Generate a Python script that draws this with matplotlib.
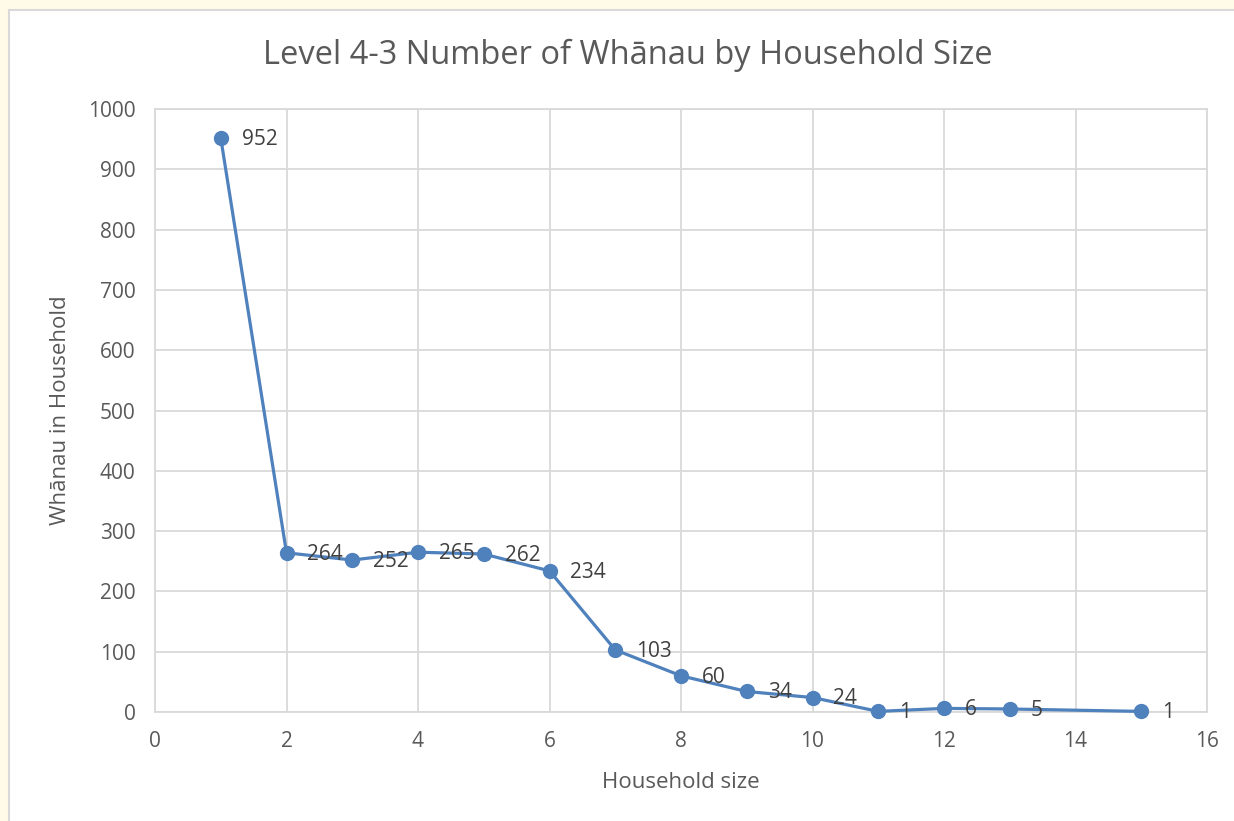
import matplotlib.pyplot as plt
from matplotlib.patches import Rectangle

household_size = [1, 2, 3, 4, 5, 6, 7, 8, 9, 10, 11, 12, 13, 15]
whanau_count = [952, 264, 252, 265, 262, 234, 103, 60, 34, 24, 1, 6, 5, 1]

plt.rcParams['font.family'] = ['Open Sans', 'DejaVu Sans']
text_color = '#595959'
grid_color = '#D9D9D9'
line_color = '#4F81BD'

fig = plt.figure(figsize=(12.34, 8.21), dpi=100, facecolor='#FFFBE8')
# white chart area with light border
fig.patches.append(Rectangle((9 / 1234, -0.01), 1.0, 1 - 10 / 821 + 0.01,
                             transform=fig.transFigure, facecolor='white',
                             edgecolor=grid_color, linewidth=1.5, zorder=-5))

ax = fig.add_axes([155 / 1234, 1 - 712 / 821, (1207 - 155) / 1234, (712 - 109) / 821])
ax.set_facecolor('white')

ax.plot(household_size, whanau_count, color=line_color, linewidth=2.3,
        marker='o', markersize=10, zorder=3, clip_on=False)

for x, y in zip(household_size, whanau_count):
    ax.annotate(str(y), (x, y), xytext=(15, -1), textcoords='offset points',
                ha='left', va='center', fontsize=15, color='#404040')

ax.set_xlim(0, 16)
ax.set_ylim(0, 1000)
ax.set_xticks(range(0, 17, 2))
ax.set_yticks(range(0, 1001, 100))
ax.grid(True, color=grid_color, linewidth=1.3)
ax.set_axisbelow(True)
for s in ax.spines.values():
    s.set_color(grid_color)
    s.set_linewidth(1.3)
ax.tick_params(length=0, labelsize=15, colors=text_color, pad=14)

ax.set_xlabel('Household size', fontsize=16, color=text_color, labelpad=14)
ax.set_ylabel('Whānau in Household', fontsize=16, color=text_color, labelpad=12)
fig.text(628 / 1234, 1 - 55 / 821, 'Level 4-3 Number of Whānau by Household Size',
         ha='center', va='center', fontsize=23.5, color=text_color)

fig.savefig('out.png', dpi=100, facecolor=fig.get_facecolor())
